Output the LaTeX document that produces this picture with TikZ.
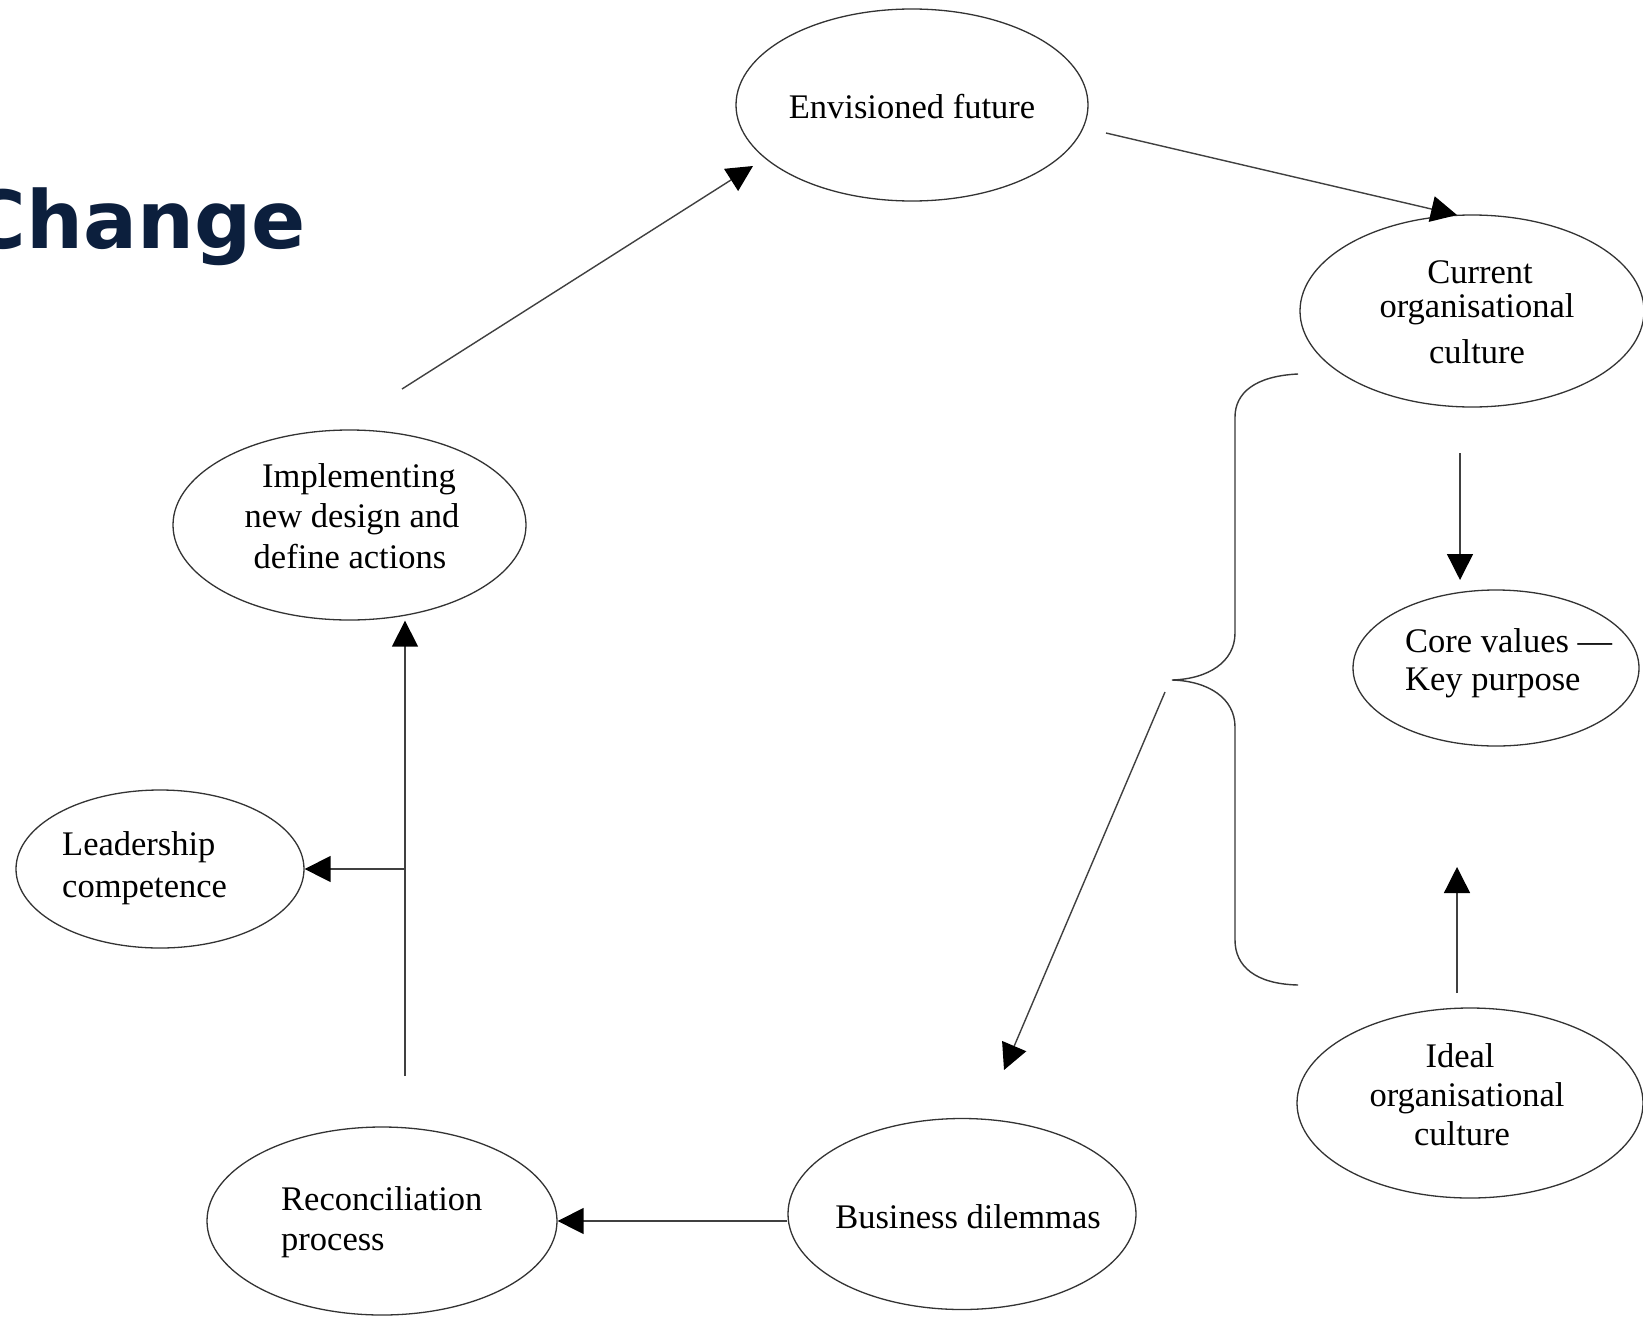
\documentclass[tikz,border=0pt]{standalone}
\usepackage{fontspec}
\setmainfont{Liberation Serif}
\newfontfamily\titlefont{DejaVu Sans}
\usetikzlibrary{shapes.geometric,arrows.meta}
\definecolor{titleblue}{RGB}{12,31,61}
\newcommand{\cstack}[2][40pt]{\vtop{\baselineskip=#1\lineskiplimit=-100pt\halign{\hfil##\hfil\cr#2\crcr}}}
\newcommand{\lstack}[2][40pt]{\vtop{\baselineskip=#1\lineskiplimit=-100pt\halign{##\hfil\cr#2\crcr}}}
\begin{document}
\begin{tikzpicture}[x=1pt,y=-1pt,
  oval/.style={ellipse, draw=black!80, line width=1.3pt, inner sep=0pt},
  lbl/.style={inner sep=0pt, font=\fontsize{34.5}{40}\selectfont, text=black},
  arr/.style={draw=black!75, line width=1.4pt, -{Triangle[length=26pt,width=26pt,color=black]}},
  bracepath/.style={draw=black!78, line width=1.4pt}]
\useasboundingbox[fill=white] (0,0) rectangle (1643,1317);

% title
\node[anchor=base east, inner sep=0pt, font=\titlefont\bfseries\fontsize{80}{80}\selectfont, text=titleblue] (title) at (306,248) {Change};

% ellipses
\node[oval, minimum width=352pt, minimum height=192pt] (ef) at (912,105) {};
\node[oval, minimum width=344pt, minimum height=192pt] (cur) at (1472,311) {};
\node[oval, minimum width=286pt, minimum height=156pt] (core) at (1496,668) {};
\node[oval, minimum width=346pt, minimum height=190pt] (ideal) at (1470,1103) {};
\node[oval, minimum width=348pt, minimum height=191pt] (biz) at (962,1214) {};
\node[oval, minimum width=350pt, minimum height=188pt] (rec) at (382,1221) {};
\node[oval, minimum width=288pt, minimum height=158pt] (lead) at (160,869) {};
\node[oval, minimum width=353pt, minimum height=190pt] (impl) at (349.5,525) {};

% texts
\node[lbl, anchor=base] (ef-t) at (912,118) {Envisioned future};
\node[lbl, anchor=base] (cur-t) at (1477,283) {\cstack[34pt]{\kern6pt Current\cr organisational\cr\noalign{\vskip12pt} culture}};
\node[lbl, anchor=base west] (core-t) at (1405,652) {\lstack[38pt]{Core values ---\cr Key purpose}};
\node[lbl, anchor=base] (ideal-t) at (1467,1067) {\cstack[39pt]{Ideal\kern14pt\cr organisational\cr culture\kern10pt}};
\node[lbl, anchor=base] (biz-t) at (968,1228) {Business dilemmas};
\node[lbl, anchor=base west] (rec-t) at (281,1210) {\lstack[40pt]{Reconciliation\cr process}};
\node[lbl, anchor=base west] (lead-t) at (62,855) {\lstack[42pt]{Leadership\cr competence}};
\node[lbl, anchor=base] (impl-t) at (352,487) {\cstack[40.5pt]{\kern14pt Implementing\cr new design and\cr define actions\kern4pt}};

% free connector ends
\coordinate (a1s) at (402,389);
\coordinate (a1e) at (753,166);
\coordinate (a2s) at (1106,133);
\coordinate (a2e) at (1457,215);
\coordinate (a3s) at (1460,453);
\coordinate (a3e) at (1460,580);
\coordinate (a4s) at (1457,993);
\coordinate (a4e) at (1457,867);
\coordinate (bracetip) at (1172,680);
\coordinate (a6s) at (1165,692);
\coordinate (a6e) at (1004,1070);
\coordinate (rstart) at (405,1076);

% connectors
\draw[arr] (a1s) -- (a1e);
\draw[arr] (a2s) -- (a2e);
\draw[arr] (a3s) -- (a3e);
\draw[arr] (a4s) -- (a4e);
\draw[arr] (a6s) -- (a6e);
\draw[arr] (rec.east -| biz.west) -- (rec.east);
\draw[arr] (rstart) -- (rstart |- impl.south);
\draw[arr] (rstart |- lead.east) -- (lead.east);

% brace
\draw[bracepath] (1298,374) .. controls (1255,376) and (1235,393) .. (1235,417)
  -- (1235,633) .. controls (1235,662) and (1208,679) .. (bracetip)
  .. controls (1208,681) and (1235,698) .. (1235,727)
  -- (1235,940) .. controls (1235,966) and (1255,984) .. (1298,985);
\end{tikzpicture}
\end{document}
